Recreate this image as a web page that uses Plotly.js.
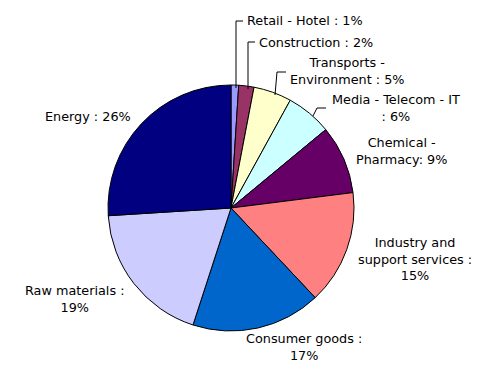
<!DOCTYPE html>
<html><head><meta charset="utf-8">
<script src="https://cdn.plot.ly/plotly-3.0.1.min.js"></script>
<style>html,body{margin:0;padding:0;background:#fff}#chart{width:494px;height:366px}</style>
</head><body><div id="chart"></div>
<script>
const categories = ["Retail - Hotel","Construction","Transports - Environment","Media - Telecom - IT","Chemical - Pharmacy","Industry and support services","Consumer goods","Raw materials","Energy"];
const values = [1,2,5,6,9,15,17,19,26];
const labelTexts = ["Retail - Hotel : 1%","Construction : 2%","Transports -<br>Environment : 5%","Media - Telecom - IT<br>: 6%","Chemical -<br>Pharmacy: 9%","Industry and<br>support services :<br>15%","Consumer goods :<br>17%","Raw materials :<br>19%","Energy : 26%"];
const colors = ["#9999FF","#993366","#FFFFCC","#CCFFFF","#660066","#FF8080","#0066CC","#CCCCFF","#000080"];

const W=494,H=366;
const cx=231, cy=208, r=123;
function px(x){return x/W;}
function py(y){return 1-y/H;}

// label placement (pixels): x, y, xanchor
const labelPos = [[245,21,'left'],[257,42,'left'],[347,71,'center'],[396,108,'center'],[401,151,'center'],[415,259,'center'],[304,347,'center'],[74,299,'center'],[88,116,'center']];
const leaders = [
  [[236,88],[236,21],[243,21]],
  [[248,89],[248,42],[255,42]],
  [[275,95],[277,72],[286,72]],
  [[313,116],[317,108],[326,108]]
];

const annotations = labelTexts.map((t,i)=>({
  x:px(labelPos[i][0]), y:py(labelPos[i][1]), xref:'paper', yref:'paper',
  text:t, showarrow:false, xanchor:labelPos[i][2], yanchor:'middle', align:'center',
  font:{family:'DejaVu Sans, Verdana, sans-serif', size:12.8, color:'#000'}
}));
const shapes = leaders.map(pts=>({
  type:'path', xref:'paper', yref:'paper',
  path: pts.map((p,j)=>(j?'L':'M')+px(p[0])+','+py(p[1])).join(' '),
  line:{color:'#000', width:1}
}));

Plotly.newPlot('chart',[{
  type:'pie', labels:categories, values:values, sort:false, direction:'clockwise', rotation:0,
  marker:{colors:colors, line:{color:'#000', width:1}},
  textinfo:'none', hoverinfo:'label+percent',
  domain:{x:[px(cx-r),px(cx+r)], y:[py(cy+r),py(cy-r)]}
}],{
  width:W, height:H, margin:{l:0,r:0,t:0,b:0}, showlegend:false,
  paper_bgcolor:'#fff', annotations:annotations, shapes:shapes
},{staticPlot:true});
</script></body></html>
